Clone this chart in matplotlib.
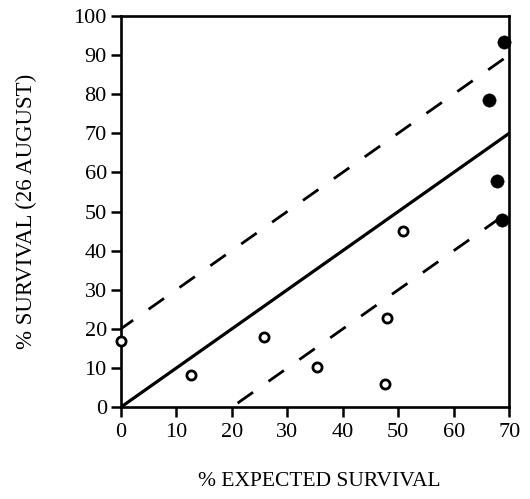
import numpy as np
import matplotlib
matplotlib.use('Agg')
import matplotlib.pyplot as plt

plt.rcParams['font.family'] = ['Liberation Serif', 'DejaVu Serif']

# open circles (observed vs expected survival)
open_x = [0.0, 12.6, 25.9, 35.4, 47.6, 48.0, 50.8]
open_y = [17.0, 8.3, 18.0, 10.4, 5.9, 22.9, 44.9]

# filled circles
filled_x = [69.0, 66.4, 67.8, 68.6]
filled_y = [93.2, 78.4, 57.8, 47.9]

# 1:1 line and +/- 20 bands
line_x = [0, 70]
line_y = [0, 70]
upper_x = [0, 70]
upper_y = [20, 90]
lower_x = [20, 70]
lower_y = [0, 50]

xticks = [0, 10, 20, 30, 40, 50, 60, 70]
yticks = [0, 10, 20, 30, 40, 50, 60, 70, 80, 90, 100]

fig = plt.figure(figsize=(5.30, 4.99), dpi=100)
ax = fig.add_axes([0.2277, 0.1838, 0.7333, 0.7847])

ax.plot(line_x, line_y, color='black', lw=2.3, solid_capstyle='butt')
ax.plot(upper_x, upper_y, color='black', lw=2.0, dash_capstyle='butt',
        linestyle=(1.3, (6.8, 6.8)))
ax.plot(lower_x, lower_y, color='black', lw=2.0, dash_capstyle='butt',
        linestyle=(11.0, (6.8, 6.8)))

ax.plot(open_x, open_y, 'o', ms=6.6, mfc='white', mec='black', mew=2.0,
        clip_on=False, zorder=3)
ax.plot(filled_x, filled_y, 'o', ms=9.6, mfc='black', mec='black', mew=0.3,
        clip_on=False, zorder=3)

ax.set_xlim(0, 70)
ax.set_ylim(0, 100)
ax.set_xticks(xticks)
ax.set_yticks(yticks)
ax.tick_params(direction='out', length=7, width=1.8, labelsize=16)
ax.tick_params(axis='x', pad=4.5)
ax.tick_params(axis='y', pad=3)
for sp in ax.spines.values():
    sp.set_linewidth(1.9)

ax.set_xlabel('% EXPECTED SURVIVAL', fontsize=15.5)
ax.xaxis.set_label_coords(0.51, -0.165)
ax.set_ylabel('% SURVIVAL (26 AUGUST)', fontsize=16.5)
ax.yaxis.set_label_coords(-0.215, 0.5)

fig.savefig('out.png', dpi=100)
